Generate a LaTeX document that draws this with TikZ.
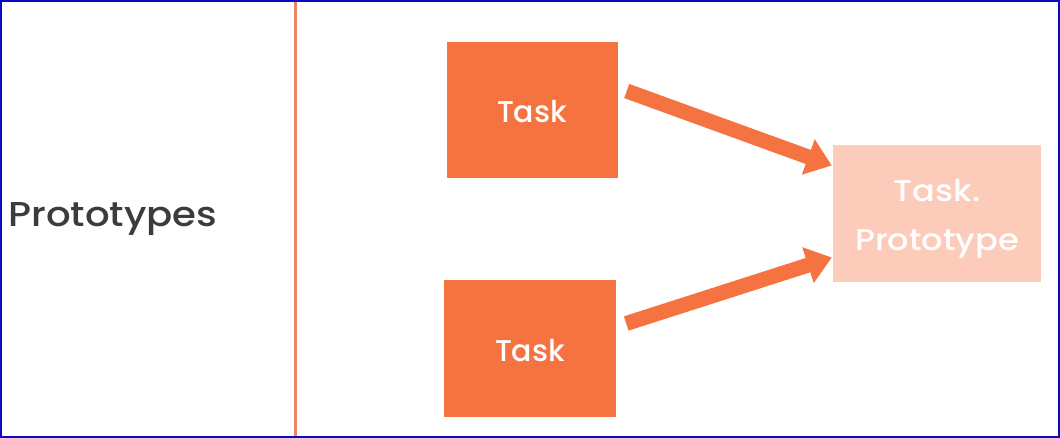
\documentclass[tikz,border=0pt]{standalone}
\usepackage{fontspec}
\setmainfont{Poppins}
\newfontfamily\labelfont{Poppins Medium}[FakeStretch=1.12]
\newfontfamily\taskfont{Poppins Medium}
\usetikzlibrary{arrows.meta,calc}
\definecolor{taskorange}{HTML}{F47340}
\definecolor{protopeach}{HTML}{FCCBB9}
\definecolor{dividerline}{HTML}{EE8562}
\definecolor{frameblue}{HTML}{0A0AC0}
\definecolor{labelgray}{HTML}{3C3C3C}
\tikzset{
  taskbox/.style={rectangle, fill=taskorange, text=white, inner sep=0pt,
    font=\taskfont\fontsize{30}{36}\selectfont},
  protobox/.style={rectangle, fill=protopeach, text=white, inner sep=0pt,
    align=center, font=\labelfont\fontsize{30}{49}\selectfont},
  flow/.style={draw=taskorange, line width=15pt,
    -{Triangle[length=25pt,width=36pt]}},
}
\begin{document}
\begin{tikzpicture}[x=1pt,y=-1pt]
  % page area and frame
  \useasboundingbox (0,0) rectangle (1060,438);
  \fill[white] (0,0) rectangle (1060,438);
  \draw[frameblue, line width=2pt] (1,1) rectangle (1059,437);

  % divider between heading and content
  \draw[dividerline, line width=3pt] (295,2) -- (295,436);

  % heading
  \node[anchor=base west, text=labelgray, inner sep=0pt,
        font=\labelfont\fontsize{34.5}{40}\selectfont] (head) at (8,227) {Prototypes};

  % objects
  \node[taskbox, minimum width=171pt, minimum height=136pt] (t1) at (532,110) {};
  \node[taskbox, minimum width=172pt, minimum height=137pt] (t2) at (530,348.5) {};
  \node[protobox, minimum width=208pt, minimum height=137pt] (proto) at (937,213.5) {};

  % box captions
  \node[taskbox, fill=none, anchor=base] at ($(t1.center)+(0,13)$) {Task};
  \node[taskbox, fill=none, anchor=base] at ($(t2.center)+(0,13)$) {Task};
  \node[protobox, fill=none, anchor=base] at ($(proto.center)+(0,-11.5)$) {Task.};
  \node[protobox, fill=none, anchor=base] at ($(proto.center)+(0,37.5)$) {Prototype};

  % prototype links
  \draw[flow] ($(t1.east)+(9,-19)$) -- ($(proto.west)+(-1,-48)$);
  \draw[flow] ($(t2.east)+(10,-25)$) -- ($(proto.west)+(-1,44)$);
\end{tikzpicture}
\end{document}
